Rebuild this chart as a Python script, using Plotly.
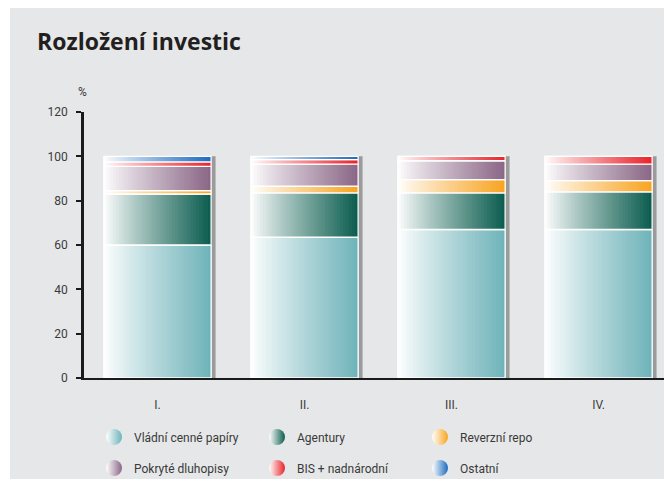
import plotly.graph_objects as go

categories = ["I.", "II.", "III.", "IV."]
series_names = ["Vládní cenné papíry", "Agentury", "Reverzní repo",
                "Pokryté dluhopisy", "BIS + nadnárodní", "Ostatní"]
vladni = [60.0, 63.5, 67.0, 67.0]
agentury = [23.0, 20.0, 16.5, 17.0]
repo = [1.5, 3.0, 6.0, 5.0]
pokryte = [11.0, 10.0, 8.5, 7.5]
bis = [2.0, 2.0, 2.0, 3.5]
ostatni = [2.5, 1.5, 0.0, 0.0]
y_ticks = [0, 20, 40, 60, 80, 100, 120]

series_values = [vladni, agentury, repo, pokryte, bis, ostatni]
series_colors = ["#6eb3b9", "#0a5c4e", "#f8a421", "#8a6686", "#e8232a", "#1c6cc0"]

BG = "#e6e7e8"
W = 0.73
LEFT = -W / 2
N = 36

# figure pixel geometry (page adds an 8px body margin; bottom of figure is clipped by the window)
FW, FH = 672, 490
ML, MR, MT = 76, 8, 104
PH = 266
MB = FH - MT - PH
PW = FW - ML - MR


def hex2rgb(h):
    h = h.lstrip("#")
    return tuple(int(h[i:i + 2], 16) for i in (0, 2, 4))


def lerp(c, t):
    r, g, b = hex2rgb(c)
    return "rgb(%d,%d,%d)" % (round(255 + (r - 255) * t), round(255 + (g - 255) * t), round(255 + (b - 255) * t))


fig = go.Figure()

totals = [sum(s[i] for s in series_values) for i in range(len(categories))]
fig.add_trace(go.Bar(x=categories, y=totals, base=[0] * len(categories),
                     offset=LEFT + 0.03, width=W, marker=dict(color="#9b9b9b", line=dict(width=0)),
                     showlegend=False, hoverinfo="skip"))

bases = [0.0] * len(categories)
for name, vals, col in zip(series_names, series_values, series_colors):
    base = list(bases)
    step = W / N
    for i in range(N):
        t = ((i + 0.5) / N) ** 0.9
        fig.add_trace(go.Bar(x=categories, y=vals, base=base,
                             offset=LEFT + i * step, width=W - i * step,
                             marker=dict(color=lerp(col, t), line=dict(width=0)),
                             showlegend=False, hoverinfo="skip"))
    fig.add_trace(go.Bar(x=categories, y=vals, base=base, offset=LEFT, width=W,
                         marker=dict(color="rgba(0,0,0,0)", line=dict(color="white", width=1.3)),
                         showlegend=False, name=name,
                         hovertemplate="%{x} " + name + ": %{y}%<extra></extra>"))
    bases = [b + v for b, v in zip(bases, vals)]

for k, (name, col) in enumerate(zip(series_names, series_colors)):
    fig.add_trace(go.Scatter(x=[None], y=[None], mode="markers", name=name,
                             marker=dict(size=16, color="white", line=dict(width=0),
                                         gradient=dict(type="horizontal", color=col)),
                             legend="legend" if k < 3 else "legend2"))

legend_common = dict(orientation="h", entrywidth=118, entrywidthmode="pixels",
                     font=dict(family="Roboto", size=12, color="#3a3a3a"),
                     bgcolor="rgba(0,0,0,0)", itemsizing="trace",
                     xanchor="left", yanchor="middle")

fig.update_layout(
    width=FW, height=FH,
    margin=dict(l=ML, r=MR, t=MT, b=MB),
    paper_bgcolor="white",
    plot_bgcolor="rgba(0,0,0,0)",
    barmode="overlay",
    title=dict(text="<b>Rozložení investic</b>", x=29 / FW, xanchor="left",
               xref="container", y=1 - 34 / FH, yanchor="middle", yref="container",
               font=dict(family="Open Sans", size=23, color="#231f20")),
    xaxis=dict(showgrid=False, zeroline=False, showline=True, linecolor="#1a1a1a", linewidth=2,
               ticks="", tickfont=dict(family="Roboto", size=12, color="#3a3a3a"),
               ticklabelstandoff=15, range=[-0.5, 3.5], fixedrange=True),
    yaxis=dict(range=[0, 120], tickvals=y_ticks, showgrid=False, zeroline=False,
               showline=True, linecolor="#1a1a1a", linewidth=2.5,
               ticks="outside", ticklen=5, tickwidth=2, tickcolor="#1a1a1a",
               tickfont=dict(family="Roboto", size=12, color="#3a3a3a"),
               ticklabelstandoff=6),
    legend=dict(x=10 / PW, y=-59 / PH, **legend_common),
    legend2=dict(x=10 / PW, y=-90 / PH, **legend_common),
    shapes=[dict(type="rect", xref="paper", yref="paper", layer="below",
                 x0=(2 - ML) / PW, x1=1 + MR / PW, y0=-MB / PH, y1=1 + MT / PH,
                 fillcolor=BG, line=dict(width=0))],
    annotations=[dict(text="%", xref="paper", yref="paper", x=-2 / PW, y=1 + 20 / PH,
                      showarrow=False, xanchor="center", yanchor="middle",
                      font=dict(family="Roboto", size=12, color="#3a3a3a"))],
)

fig.write_html("out.html")
